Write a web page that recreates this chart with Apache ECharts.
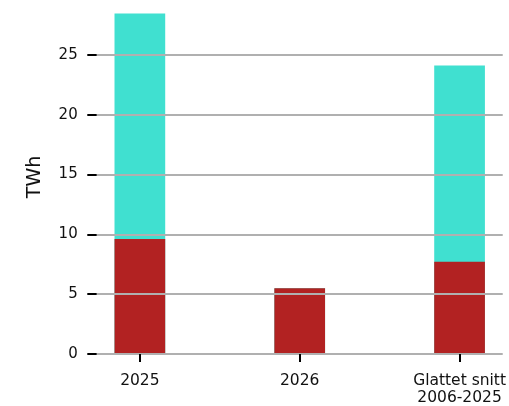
<!DOCTYPE html>
<html>
<head>
<meta charset="utf-8">
<script src="https://cdn.jsdelivr.net/npm/echarts@6/dist/echarts.min.js"></script>
<style>html,body{margin:0;padding:0;background:#fff}#c{width:509px;height:406px}</style>
</head>
<body>
<div id="c"></div>
<script>
const categories = ['2025', '2026', 'Glattet snitt\n2006-2025'];
const redValues = [9.6, 5.5, 7.7];
const cyanValues = [18.85, 0, 16.4];
const yTicks = [0, 5, 10, 15, 20, 25];

const chart = echarts.init(document.getElementById('c'), null, {renderer: 'canvas'});
const pos = categories.map((_, i) => i);
const totals = redValues.map((v, i) => v + cyanValues[i]);
chart.setOption({
  animation: false,
  grid: {left: 96.7, right: 6, top: 12.9, bottom: 49.7, containLabel: false},
  xAxis: {
    type: 'value', min: -0.27, max: 2.27, z: 5,
    axisLine: {show: false},
    splitLine: {show: false},
    axisTick: {show: true, customValues: pos, length: 8, lineStyle: {color: '#000', width: 2}},
    axisLabel: {show: true, customValues: pos, margin: 18, fontSize: 15.5, color: '#111',
      fontFamily: 'DejaVu Sans', lineHeight: 17,
      formatter: v => categories[Math.round(v)]}
  },
  yAxis: {
    type: 'value', min: 0, max: 28.5, interval: 5, z: 5,
    name: 'TWh', nameLocation: 'middle', nameGap: 52, nameRotate: 90,
    nameTextStyle: {fontSize: 19, color: '#111', fontFamily: 'DejaVu Sans', padding: [0, 0, 0, 13]},
    axisLine: {show: false, onZero: false},
    axisTick: {show: true, customValues: yTicks, length: 9.4, lineStyle: {color: '#000', width: 2}},
    axisLabel: {customValues: yTicks, margin: 19, fontSize: 15, color: '#111', fontFamily: 'DejaVu Sans'},
    splitLine: {show: true, lineStyle: {color: '#b0b0b0', width: 2}}
  },
  series: [
    {type: 'bar', name: 'total', barWidth: 50.7, barGap: '-100%', itemStyle: {color: '#40E0D0'},
      data: totals.map((v, i) => [pos[i], v])},
    {type: 'bar', name: 'red', barWidth: 50.7, barGap: '-100%', itemStyle: {color: '#B22222'},
      data: redValues.map((v, i) => [pos[i], v])}
  ]
});
</script>
</body>
</html>
